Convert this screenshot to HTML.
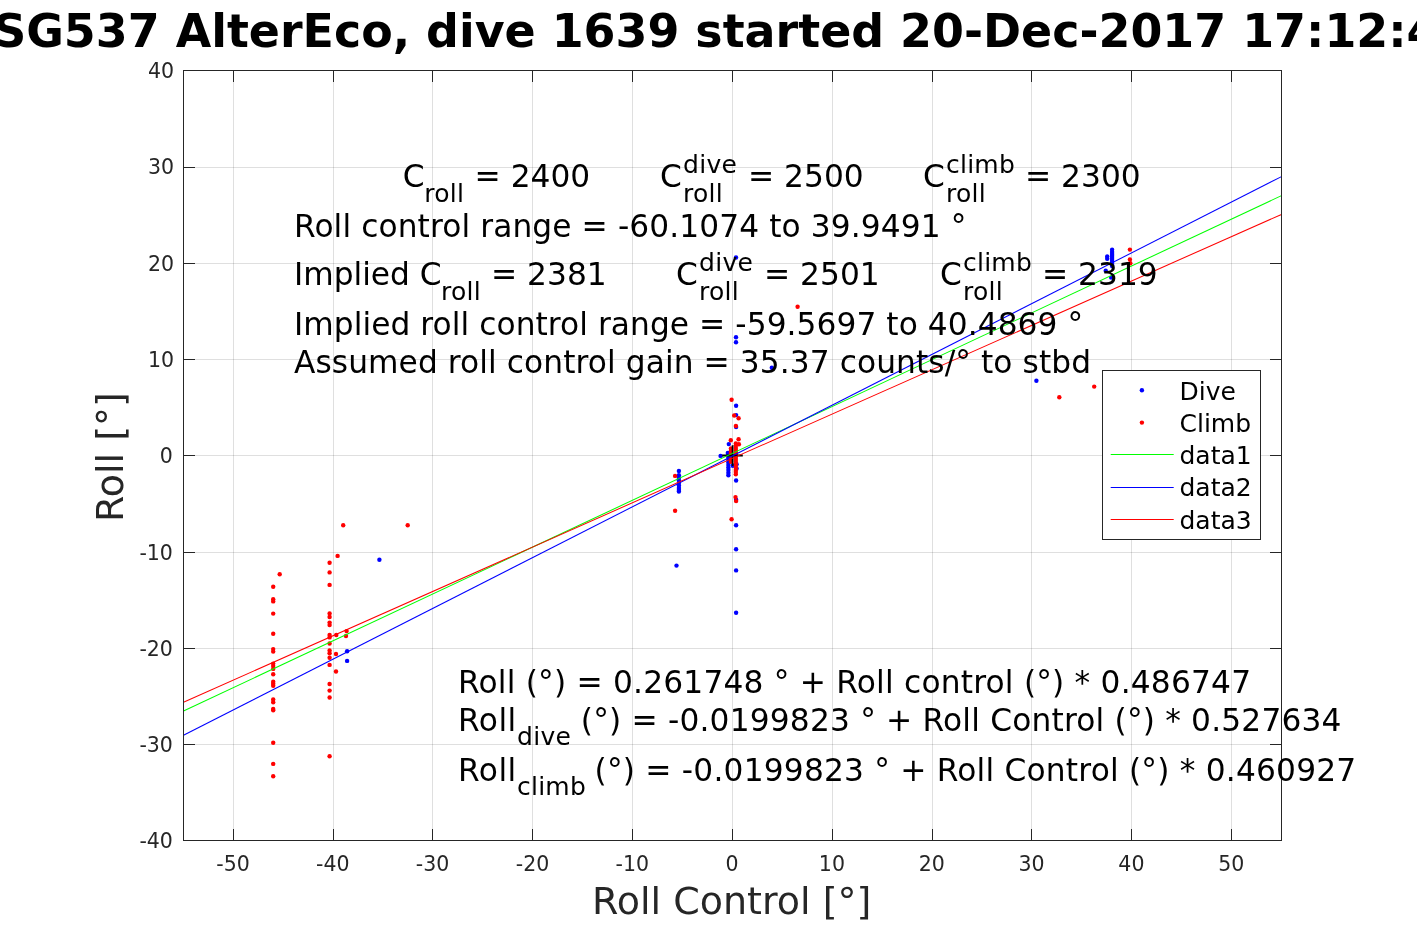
<!DOCTYPE html>
<html lang="en"><head><meta charset="utf-8"><title>SG537 AlterEco, dive 1639 - Roll vs Roll Control</title>
<style>
html,body{margin:0;padding:0;background:#fff;}
body{width:1417px;height:945px;overflow:hidden;}
svg{display:block;font-family:"DejaVu Sans","Liberation Sans",sans-serif;}
.tk{font-size:20.50px;fill:#262626;}
.an{font-size:31.25px;fill:#000;}
.sb{font-size:25.00px;fill:#000;}
.al{font-size:38.00px;fill:#262626;}
.tt{font-size:45.90px;font-weight:bold;fill:#000;}
.lg{font-size:25px;fill:#000;}
.g{stroke:#262626;stroke-opacity:0.15;stroke-width:1;}
.ax{stroke:#262626;stroke-width:1;fill:none;}
.bd circle{fill:#00f;}
.rd circle{fill:#f00;}
</style></head><body>
<svg width="1417" height="945" viewBox="0 0 1417 945">
<rect x="0" y="0" width="1417" height="945" fill="#fff"/>
<g class="g">
<line x1="233.5" y1="70.5" x2="233.5" y2="840.5"/>
<line x1="333.5" y1="70.5" x2="333.5" y2="840.5"/>
<line x1="432.5" y1="70.5" x2="432.5" y2="840.5"/>
<line x1="532.5" y1="70.5" x2="532.5" y2="840.5"/>
<line x1="632.5" y1="70.5" x2="632.5" y2="840.5"/>
<line x1="732.5" y1="70.5" x2="732.5" y2="840.5"/>
<line x1="832.5" y1="70.5" x2="832.5" y2="840.5"/>
<line x1="932.5" y1="70.5" x2="932.5" y2="840.5"/>
<line x1="1031.5" y1="70.5" x2="1031.5" y2="840.5"/>
<line x1="1131.5" y1="70.5" x2="1131.5" y2="840.5"/>
<line x1="1231.5" y1="70.5" x2="1231.5" y2="840.5"/>
<line x1="183.5" y1="744.5" x2="1281.5" y2="744.5"/>
<line x1="183.5" y1="648.5" x2="1281.5" y2="648.5"/>
<line x1="183.5" y1="552.5" x2="1281.5" y2="552.5"/>
<line x1="183.5" y1="455.5" x2="1281.5" y2="455.5"/>
<line x1="183.5" y1="359.5" x2="1281.5" y2="359.5"/>
<line x1="183.5" y1="263.5" x2="1281.5" y2="263.5"/>
<line x1="183.5" y1="167.5" x2="1281.5" y2="167.5"/>
</g>
<g class="bd">
<circle cx="379.4" cy="559.8" r="2.2"/>
<circle cx="347.1" cy="651.2" r="2.2"/>
<circle cx="347.1" cy="660.9" r="2.2"/>
<circle cx="736.1" cy="405.7" r="2.2"/>
<circle cx="736.1" cy="415.1" r="2.2"/>
<circle cx="736.1" cy="427.1" r="2.2"/>
<circle cx="728.8" cy="444.1" r="2.2"/>
<circle cx="720.6" cy="455.9" r="2.2"/>
<circle cx="727.8" cy="453.0" r="2.2"/>
<circle cx="732.8" cy="465.7" r="2.2"/>
<circle cx="736.1" cy="480.5" r="2.2"/>
<circle cx="736.1" cy="499.8" r="2.2"/>
<circle cx="736.1" cy="525.2" r="2.2"/>
<circle cx="736.1" cy="549.2" r="2.2"/>
<circle cx="676.5" cy="565.6" r="2.2"/>
<circle cx="736.1" cy="570.4" r="2.2"/>
<circle cx="736.1" cy="612.8" r="2.2"/>
<circle cx="736.0" cy="257.5" r="2.2"/>
<circle cx="736.0" cy="337.3" r="2.2"/>
<circle cx="736.0" cy="342.2" r="2.2"/>
<circle cx="771.8" cy="367.8" r="2.2"/>
<circle cx="1036.4" cy="380.8" r="2.2"/>
<circle cx="1105.7" cy="270.8" r="2.2"/>
<circle cx="1111.2" cy="277.6" r="2.2"/>
<circle cx="736.6" cy="464.3" r="2.2"/>
<circle cx="736.6" cy="468.5" r="2.2"/>
<circle cx="728.4" cy="457.5" r="2.2"/>
<circle cx="728.4" cy="460.0" r="2.2"/>
<circle cx="728.4" cy="462.5" r="2.2"/>
<circle cx="728.4" cy="465.0" r="2.2"/>
<circle cx="728.4" cy="467.5" r="2.2"/>
<circle cx="728.4" cy="470.0" r="2.2"/>
<circle cx="728.4" cy="472.8" r="2.2"/>
<circle cx="728.4" cy="475.2" r="2.2"/>
<circle cx="678.9" cy="471.0" r="2.2"/>
<circle cx="678.9" cy="475.3" r="2.2"/>
<circle cx="678.9" cy="478.0" r="2.2"/>
<circle cx="678.9" cy="480.5" r="2.2"/>
<circle cx="678.9" cy="483.0" r="2.2"/>
<circle cx="678.9" cy="485.5" r="2.2"/>
<circle cx="678.9" cy="488.0" r="2.2"/>
<circle cx="678.9" cy="490.0" r="2.2"/>
<circle cx="678.9" cy="491.6" r="2.2"/>
<circle cx="1112.1" cy="249.7" r="2.2"/>
<circle cx="1112.1" cy="252.0" r="2.2"/>
<circle cx="1112.1" cy="254.0" r="2.2"/>
<circle cx="1112.1" cy="256.0" r="2.2"/>
<circle cx="1112.1" cy="258.0" r="2.2"/>
<circle cx="1112.1" cy="260.0" r="2.2"/>
<circle cx="1112.1" cy="262.0" r="2.2"/>
<circle cx="1112.1" cy="264.0" r="2.2"/>
<circle cx="1112.1" cy="266.0" r="2.2"/>
<circle cx="1107.2" cy="256.5" r="2.2"/>
<circle cx="1107.2" cy="258.8" r="2.2"/>
</g>
<g class="rd">
<circle cx="343.2" cy="525.2" r="2.2"/>
<circle cx="407.7" cy="525.3" r="2.2"/>
<circle cx="337.6" cy="555.9" r="2.2"/>
<circle cx="329.6" cy="562.7" r="2.2"/>
<circle cx="329.6" cy="572.4" r="2.2"/>
<circle cx="329.6" cy="584.9" r="2.2"/>
<circle cx="279.7" cy="574.2" r="2.2"/>
<circle cx="336.3" cy="635.0" r="2.2"/>
<circle cx="346.6" cy="631.1" r="2.2"/>
<circle cx="346.0" cy="636.0" r="2.2"/>
<circle cx="336.0" cy="654.0" r="2.2"/>
<circle cx="336.0" cy="671.5" r="2.2"/>
<circle cx="731.6" cy="399.8" r="2.2"/>
<circle cx="734.2" cy="415.5" r="2.2"/>
<circle cx="738.6" cy="418.3" r="2.2"/>
<circle cx="735.9" cy="426.0" r="2.2"/>
<circle cx="730.8" cy="440.3" r="2.2"/>
<circle cx="738.6" cy="439.3" r="2.2"/>
<circle cx="738.9" cy="444.3" r="2.2"/>
<circle cx="675.1" cy="475.9" r="2.2"/>
<circle cx="675.1" cy="510.7" r="2.2"/>
<circle cx="735.5" cy="497.1" r="2.2"/>
<circle cx="736.1" cy="501.1" r="2.2"/>
<circle cx="731.6" cy="519.3" r="2.2"/>
<circle cx="797.6" cy="306.7" r="2.2"/>
<circle cx="1129.9" cy="249.6" r="2.2"/>
<circle cx="1129.9" cy="259.4" r="2.2"/>
<circle cx="1130.3" cy="263.2" r="2.2"/>
<circle cx="1059.3" cy="397.2" r="2.2"/>
<circle cx="1094.2" cy="386.6" r="2.2"/>
<circle cx="273.2" cy="586.8" r="2.2"/>
<circle cx="273.2" cy="599.2" r="2.2"/>
<circle cx="273.2" cy="601.4" r="2.2"/>
<circle cx="273.2" cy="613.6" r="2.2"/>
<circle cx="273.2" cy="633.8" r="2.2"/>
<circle cx="273.2" cy="649.1" r="2.2"/>
<circle cx="273.2" cy="651.6" r="2.2"/>
<circle cx="273.2" cy="663.6" r="2.2"/>
<circle cx="273.2" cy="666.0" r="2.2"/>
<circle cx="273.2" cy="668.9" r="2.2"/>
<circle cx="273.2" cy="674.2" r="2.2"/>
<circle cx="273.2" cy="681.8" r="2.2"/>
<circle cx="273.2" cy="683.7" r="2.2"/>
<circle cx="273.2" cy="685.8" r="2.2"/>
<circle cx="273.2" cy="699.4" r="2.2"/>
<circle cx="273.2" cy="702.2" r="2.2"/>
<circle cx="273.2" cy="709.0" r="2.2"/>
<circle cx="273.2" cy="710.2" r="2.2"/>
<circle cx="273.2" cy="742.8" r="2.2"/>
<circle cx="273.2" cy="763.9" r="2.2"/>
<circle cx="273.2" cy="776.3" r="2.2"/>
<circle cx="329.6" cy="613.5" r="2.2"/>
<circle cx="329.6" cy="617.0" r="2.2"/>
<circle cx="329.6" cy="622.6" r="2.2"/>
<circle cx="329.6" cy="625.1" r="2.2"/>
<circle cx="329.6" cy="635.0" r="2.2"/>
<circle cx="329.6" cy="637.4" r="2.2"/>
<circle cx="329.6" cy="643.5" r="2.2"/>
<circle cx="329.6" cy="650.5" r="2.2"/>
<circle cx="329.6" cy="653.3" r="2.2"/>
<circle cx="329.6" cy="657.7" r="2.2"/>
<circle cx="329.6" cy="664.9" r="2.2"/>
<circle cx="329.6" cy="684.0" r="2.2"/>
<circle cx="329.6" cy="690.6" r="2.2"/>
<circle cx="329.6" cy="697.5" r="2.2"/>
<circle cx="329.6" cy="756.2" r="2.2"/>
<circle cx="735.8" cy="443.5" r="2.2"/>
<circle cx="735.8" cy="445.7" r="2.2"/>
<circle cx="735.8" cy="447.9" r="2.2"/>
<circle cx="735.8" cy="450.1" r="2.2"/>
<circle cx="735.8" cy="452.3" r="2.2"/>
<circle cx="735.8" cy="454.5" r="2.2"/>
<circle cx="735.8" cy="456.7" r="2.2"/>
<circle cx="735.8" cy="458.9" r="2.2"/>
<circle cx="735.8" cy="461.1" r="2.2"/>
<circle cx="735.8" cy="463.3" r="2.2"/>
<circle cx="735.8" cy="465.5" r="2.2"/>
<circle cx="735.8" cy="467.7" r="2.2"/>
<circle cx="735.8" cy="469.9" r="2.2"/>
<circle cx="735.8" cy="472.1" r="2.2"/>
<circle cx="735.8" cy="474.3" r="2.2"/>
<circle cx="730.9" cy="448.5" r="2.2"/>
<circle cx="730.9" cy="450.7" r="2.2"/>
<circle cx="730.9" cy="452.9" r="2.2"/>
<circle cx="730.9" cy="455.1" r="2.2"/>
<circle cx="730.9" cy="457.3" r="2.2"/>
<circle cx="730.9" cy="459.5" r="2.2"/>
<circle cx="730.9" cy="461.7" r="2.2"/>
</g>
<path d="M722.2 455.5H742.8M732.6 445.3V465.9" stroke="#000" stroke-width="1.8" fill="none"/>
<g fill="none" stroke-width="1.04">
<line x1="183.5" y1="711.0" x2="1281.5" y2="195.6" stroke="#0f0"/>
<line x1="183.5" y1="735.2" x2="1281.5" y2="176.6" stroke="#00f"/>
<line x1="183.5" y1="702.2" x2="1281.5" y2="214.4" stroke="#f00"/>
</g>
<g class="ax">
<rect x="183.5" y="70.5" width="1098.0" height="770.0"/>
<line x1="233.5" y1="840.5" x2="233.5" y2="829.0"/>
<line x1="233.5" y1="70.5" x2="233.5" y2="82.0"/>
<line x1="333.5" y1="840.5" x2="333.5" y2="829.0"/>
<line x1="333.5" y1="70.5" x2="333.5" y2="82.0"/>
<line x1="432.5" y1="840.5" x2="432.5" y2="829.0"/>
<line x1="432.5" y1="70.5" x2="432.5" y2="82.0"/>
<line x1="532.5" y1="840.5" x2="532.5" y2="829.0"/>
<line x1="532.5" y1="70.5" x2="532.5" y2="82.0"/>
<line x1="632.5" y1="840.5" x2="632.5" y2="829.0"/>
<line x1="632.5" y1="70.5" x2="632.5" y2="82.0"/>
<line x1="732.5" y1="840.5" x2="732.5" y2="829.0"/>
<line x1="732.5" y1="70.5" x2="732.5" y2="82.0"/>
<line x1="832.5" y1="840.5" x2="832.5" y2="829.0"/>
<line x1="832.5" y1="70.5" x2="832.5" y2="82.0"/>
<line x1="932.5" y1="840.5" x2="932.5" y2="829.0"/>
<line x1="932.5" y1="70.5" x2="932.5" y2="82.0"/>
<line x1="1031.5" y1="840.5" x2="1031.5" y2="829.0"/>
<line x1="1031.5" y1="70.5" x2="1031.5" y2="82.0"/>
<line x1="1131.5" y1="840.5" x2="1131.5" y2="829.0"/>
<line x1="1131.5" y1="70.5" x2="1131.5" y2="82.0"/>
<line x1="1231.5" y1="840.5" x2="1231.5" y2="829.0"/>
<line x1="1231.5" y1="70.5" x2="1231.5" y2="82.0"/>
<line x1="183.5" y1="744.5" x2="195.0" y2="744.5"/>
<line x1="1281.5" y1="744.5" x2="1270.0" y2="744.5"/>
<line x1="183.5" y1="648.5" x2="195.0" y2="648.5"/>
<line x1="1281.5" y1="648.5" x2="1270.0" y2="648.5"/>
<line x1="183.5" y1="552.5" x2="195.0" y2="552.5"/>
<line x1="1281.5" y1="552.5" x2="1270.0" y2="552.5"/>
<line x1="183.5" y1="455.5" x2="195.0" y2="455.5"/>
<line x1="1281.5" y1="455.5" x2="1270.0" y2="455.5"/>
<line x1="183.5" y1="359.5" x2="195.0" y2="359.5"/>
<line x1="1281.5" y1="359.5" x2="1270.0" y2="359.5"/>
<line x1="183.5" y1="263.5" x2="195.0" y2="263.5"/>
<line x1="1281.5" y1="263.5" x2="1270.0" y2="263.5"/>
<line x1="183.5" y1="167.5" x2="195.0" y2="167.5"/>
<line x1="1281.5" y1="167.5" x2="1270.0" y2="167.5"/>
</g>
<text class="tk" x="233.0" y="870.8" text-anchor="middle">-50</text>
<text class="tk" x="332.8" y="870.8" text-anchor="middle">-40</text>
<text class="tk" x="432.6" y="870.8" text-anchor="middle">-30</text>
<text class="tk" x="532.5" y="870.8" text-anchor="middle">-20</text>
<text class="tk" x="632.3" y="870.8" text-anchor="middle">-10</text>
<text class="tk" x="732.1" y="870.8" text-anchor="middle">0</text>
<text class="tk" x="831.9" y="870.8" text-anchor="middle">10</text>
<text class="tk" x="931.7" y="870.8" text-anchor="middle">20</text>
<text class="tk" x="1031.6" y="870.8" text-anchor="middle">30</text>
<text class="tk" x="1131.4" y="870.8" text-anchor="middle">40</text>
<text class="tk" x="1231.2" y="870.8" text-anchor="middle">50</text>
<text class="tk" x="172.9" y="848.2" text-anchor="end">-40</text>
<text class="tk" x="172.9" y="752.0" text-anchor="end">-30</text>
<text class="tk" x="172.9" y="655.7" text-anchor="end">-20</text>
<text class="tk" x="172.9" y="559.5" text-anchor="end">-10</text>
<text class="tk" x="172.9" y="463.2" text-anchor="end">0</text>
<text class="tk" x="174.1" y="366.9" text-anchor="end">10</text>
<text class="tk" x="174.1" y="270.7" text-anchor="end">20</text>
<text class="tk" x="174.1" y="174.4" text-anchor="end">30</text>
<text class="tk" x="174.1" y="78.2" text-anchor="end">40</text>
<text class="al" x="731.7" y="914.1" text-anchor="middle">Roll Control [°]</text>
<text class="al" transform="translate(123 457.1) rotate(-90)" text-anchor="middle">Roll [°]</text>
<text class="tt" x="731.8" y="47" text-anchor="middle">SG537 AlterEco, dive 1639 started 20-Dec-2017 17:12:43</text>
<text class="an" x="402.8" y="187.0">C</text>
<text class="sb" x="424.2" y="201.5" textLength="39.8" lengthAdjust="spacing">roll</text>
<text class="an" x="474.6" y="187.0">= 2400</text>
<text class="an" x="660.0" y="187.0">C</text>
<text class="sb" x="683.0" y="172.6" textLength="53.9" lengthAdjust="spacing">dive</text>
<text class="sb" x="683.0" y="201.5" textLength="39.8" lengthAdjust="spacing">roll</text>
<text class="an" x="748.0" y="187.0">= 2500</text>
<text class="an" x="923.0" y="187.0">C</text>
<text class="sb" x="946.0" y="172.6" textLength="68.8" lengthAdjust="spacing">climb</text>
<text class="sb" x="946.0" y="201.5" textLength="39.8" lengthAdjust="spacing">roll</text>
<text class="an" x="1025.0" y="187.0">= 2300</text>
<text class="an" x="294.0" y="237.0" textLength="672.4" lengthAdjust="spacing">Roll control range = -60.1074 to 39.9491 °</text>
<text class="an" x="294.0" y="285.0">Implied C</text>
<text class="sb" x="441.0" y="299.5" textLength="39.8" lengthAdjust="spacing">roll</text>
<text class="an" x="491.0" y="285.0">= 2381</text>
<text class="an" x="676.0" y="285.0">C</text>
<text class="sb" x="699.0" y="270.6" textLength="53.9" lengthAdjust="spacing">dive</text>
<text class="sb" x="699.0" y="299.5" textLength="39.8" lengthAdjust="spacing">roll</text>
<text class="an" x="764.0" y="285.0">= 2501</text>
<text class="an" x="940.0" y="285.0">C</text>
<text class="sb" x="963.0" y="270.6" textLength="68.8" lengthAdjust="spacing">climb</text>
<text class="sb" x="963.0" y="299.5" textLength="39.8" lengthAdjust="spacing">roll</text>
<text class="an" x="1042.0" y="285.0">= 2319</text>
<text class="an" x="294.0" y="335.0" textLength="789.1" lengthAdjust="spacing">Implied roll control range = -59.5697 to 40.4869 °</text>
<text class="an" x="294.0" y="373.0" textLength="797.0" lengthAdjust="spacing">Assumed roll control gain = 35.37 counts/° to stbd</text>
<text class="an" x="458.0" y="693.0" textLength="793.1" lengthAdjust="spacing">Roll (°) = 0.261748 ° + Roll control (°) * 0.486747</text>
<text class="an" x="458.0" y="731.0" textLength="58.3" lengthAdjust="spacing">Roll</text>
<text class="sb" x="517.0" y="744.7" textLength="53.9" lengthAdjust="spacing">dive</text>
<text class="an" x="580.8" y="731.0" textLength="760.7" lengthAdjust="spacing">(°) = -0.0199823 ° + Roll Control (°) * 0.527634</text>
<text class="an" x="458.0" y="781.0" textLength="58.3" lengthAdjust="spacing">Roll</text>
<text class="sb" x="517.0" y="794.7" textLength="68.8" lengthAdjust="spacing">climb</text>
<text class="an" x="594.6" y="781.0" textLength="761.6" lengthAdjust="spacing">(°) = -0.0199823 ° + Roll Control (°) * 0.460927</text>
<rect x="1102.5" y="370.5" width="158" height="169" fill="#fff" stroke="#262626" stroke-width="1"/>
<circle cx="1141.9" cy="390.2" r="2.2" fill="#00f"/>
<circle cx="1141.9" cy="422.6" r="2.2" fill="#f00"/>
<line x1="1110.7" y1="454.5" x2="1173.7" y2="454.5" stroke="#0f0" stroke-width="1.1"/>
<line x1="1110.7" y1="487.5" x2="1173.7" y2="487.5" stroke="#00f" stroke-width="1.1"/>
<line x1="1110.7" y1="519.5" x2="1173.7" y2="519.5" stroke="#f00" stroke-width="1.1"/>
<text class="lg" x="1179.5" y="399.5">Dive</text>
<text class="lg" x="1179.5" y="431.5">Climb</text>
<text class="lg" x="1179.5" y="464.0">data1</text>
<text class="lg" x="1179.5" y="496.0">data2</text>
<text class="lg" x="1179.5" y="528.5">data3</text>
</svg></body></html>
